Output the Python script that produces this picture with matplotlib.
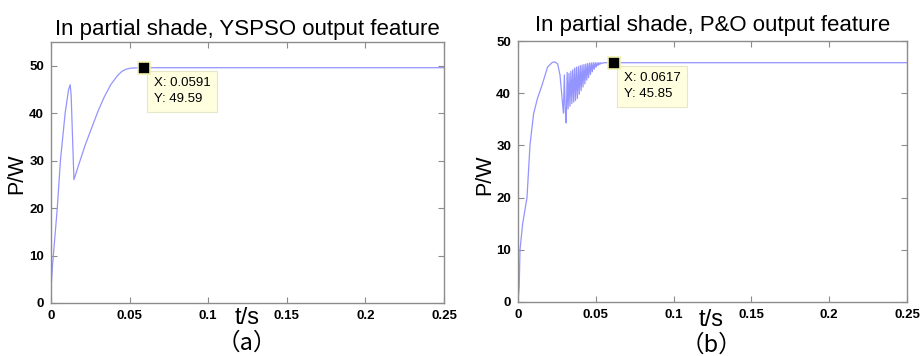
import matplotlib
matplotlib.use("Agg")
import matplotlib.pyplot as plt

plt.rcParams["font.family"] = ["Liberation Sans", "DejaVu Sans"]

# YSPSO (a)
yspso_t = [0, 0.001, 0.0025, 0.004, 0.006, 0.009, 0.0112, 0.0122, 0.0128, 0.0136,
           0.0146, 0.018, 0.022, 0.026, 0.030, 0.034, 0.038, 0.042, 0.045, 0.048,
           0.051, 0.055, 0.0591, 0.1, 0.15, 0.2, 0.25]
yspso_p = [3, 8, 14, 20, 30, 40, 45, 46, 44, 36, 26, 29.5, 33.5, 37, 40.5, 43.5,
           46, 47.8, 48.8, 49.3, 49.5, 49.57, 49.59, 49.59, 49.59, 49.59, 49.59]

# P&O (b)
po_t = [0, 0.0008, 0.0013, 0.003, 0.0058, 0.0077, 0.010, 0.0125, 0.0154, 0.019,
        0.022, 0.0238, 0.0255, 0.027, 0.0285, 0.0292,
        0.0298, 0.0304, 0.0310, 0.0316, 0.0322, 0.0328, 0.0334, 0.0340, 0.0346,
        0.0352, 0.0358, 0.0364, 0.0370, 0.0376, 0.0382, 0.0388, 0.0394, 0.0400,
        0.0406, 0.0412, 0.0418, 0.0424, 0.0430, 0.0436, 0.0442, 0.0448, 0.0454,
        0.0460, 0.0466, 0.0472, 0.0478, 0.0484, 0.0490, 0.0496, 0.0502, 0.0508,
        0.0514, 0.0520, 0.0526, 0.0532, 0.0540, 0.0550, 0.0617, 0.1, 0.15, 0.2, 0.25]
po_p = [0, 3, 10, 15, 20, 30, 36, 39, 41.5, 45, 45.9, 46, 45.6, 43.5, 38.5, 36.2,
        43.5, 36.5, 34.3, 44.0, 37.0, 43.8, 37.5, 44.2, 38.0, 44.5, 38.3, 44.8,
        38.6, 45.0, 39.0, 45.1, 39.8, 45.3, 40.5, 45.4, 41.2, 45.5, 41.8, 45.6,
        42.5, 45.7, 43.0, 45.8, 43.6, 45.8, 44.1, 45.85, 44.6, 45.85, 45.0, 45.85,
        45.3, 45.85, 45.5, 45.85, 45.7, 45.85, 45.85, 45.85, 45.85, 45.85, 45.85]

x_ticks = [0, 0.05, 0.1, 0.15, 0.2, 0.25]
x_tick_labels = ["0", "0.05", "0.1", "0.15", "0.2", "0.25"]

line_color = "#9494ff"
spine_color = "#8c8c8c"


def style_axes(ax, ymax):
    ax.set_xlim(0, 0.25)
    ax.set_ylim(0, ymax)
    ax.set_xticks(x_ticks)
    ax.set_xticklabels(x_tick_labels)
    ax.set_yticks([0, 10, 20, 30, 40, 50])
    for s in ax.spines.values():
        s.set_color(spine_color)
        s.set_linewidth(1.0)
    ax.tick_params(direction="in", top=True, right=True, length=4,
                   color=spine_color, labelsize=9.5, pad=5)
    for lab in ax.get_xticklabels() + ax.get_yticklabels():
        lab.set_fontweight("bold")


def data_tip(ax, x, y):
    ax.plot([x], [y], marker="s", markersize=8, mfc="black", mec="#f0f0b0",
            mew=1.2, zorder=5, clip_on=False)
    ax.annotate(f"X: {x}\nY: {y}", xy=(x, y), xytext=(7, -7),
                textcoords="offset points", ha="left", va="top", fontsize=9.5,
                linespacing=1.4,
                bbox=dict(boxstyle="square,pad=0.5", fc="#ffffe0", ec="#e6e6c8", lw=0.8))


fig = plt.figure(figsize=(9.22, 3.56), dpi=100)

ax1 = fig.add_axes([0.0553, 0.1489, 0.4262, 0.733])
ax1.plot(yspso_t, yspso_p, color=line_color, lw=0.9)
style_axes(ax1, 55)
data_tip(ax1, 0.0591, 49.59)
ax1.set_title("In partial shade, YSPSO output feature", fontsize=16, pad=5)

ax2 = fig.add_axes([0.5618, 0.1517, 0.4219, 0.733])
ax2.plot(po_t, po_p, color=line_color, lw=0.9)
style_axes(ax2, 50)
data_tip(ax2, 0.0617, 45.85)
ax2.set_title("In partial shade, P&O output feature", fontsize=16, pad=7)

# axis labels placed like the original
fig.text(17 / 922, 1 - 174 / 356, "P/W", rotation=90, fontsize=15.5,
         ha="center", va="center")
fig.text(485 / 922, 1 - 175 / 356, "P/W", rotation=90, fontsize=15.5,
         ha="center", va="center")
fig.text(247 / 922, 1 - 318 / 356, "t/s", fontsize=17, ha="center", va="center")
fig.text(711 / 922, 1 - 320 / 356, "t/s", fontsize=17, ha="center", va="center")

fig.text(247 / 922, 1 - 343 / 356, "（a）", fontsize=17,
         family=["Noto Sans CJK SC", "DejaVu Sans"], ha="center", va="center")
fig.text(711 / 922, 1 - 345 / 356, "（b）", fontsize=17,
         family=["Noto Sans CJK SC", "DejaVu Sans"], ha="center", va="center")

fig.savefig("out.png", dpi=100)
